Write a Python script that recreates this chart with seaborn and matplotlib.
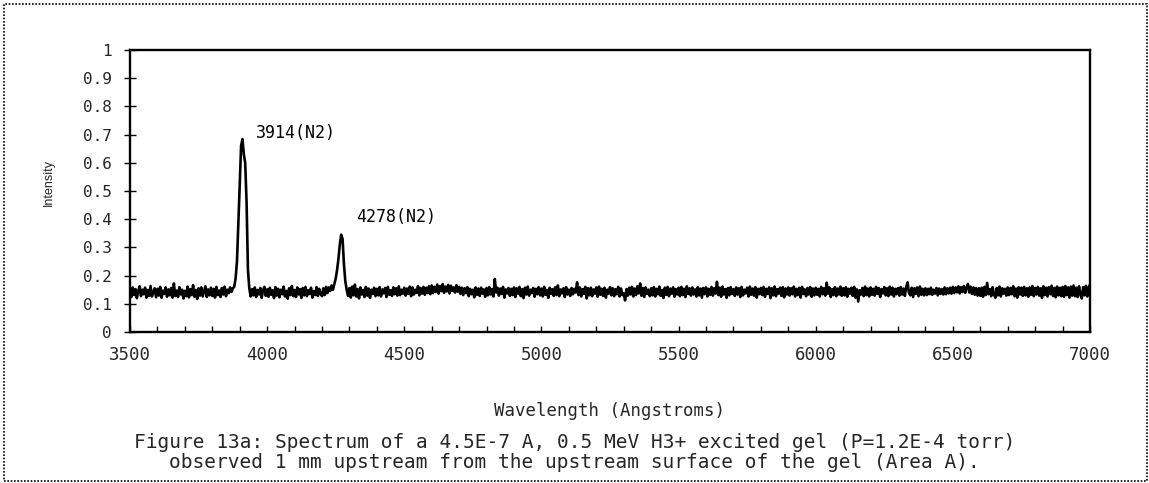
import numpy as np
import matplotlib
matplotlib.use("Agg")
import matplotlib.pyplot as plt
from matplotlib.patches import Rectangle
from matplotlib.ticker import MultipleLocator, FuncFormatter
import seaborn as sns

# ---- data, one value every 5 Angstroms from 3500 ----
start_wavelength = 3500
step_wavelength = 5
intensity = [
    # 3500-3595
    0.148, 0.124, 0.158, 0.131, 0.152, 0.120, 0.145, 0.162, 0.127, 0.150, 0.134, 0.157, 0.122, 0.149, 0.128, 0.163, 0.126, 0.141, 0.155, 0.123,
    # 3600-3695
    0.153, 0.129, 0.160, 0.121, 0.147, 0.135, 0.158, 0.125, 0.151, 0.130, 0.156, 0.122, 0.172, 0.128, 0.147, 0.124, 0.159, 0.133, 0.150, 0.119,
    # 3700-3795
    0.146, 0.127, 0.161, 0.123, 0.152, 0.131, 0.166, 0.125, 0.149, 0.117, 0.155, 0.129, 0.158, 0.126, 0.144, 0.162, 0.124, 0.151, 0.130, 0.157,
    # 3800-3895
    0.128, 0.153, 0.122, 0.160, 0.131, 0.147, 0.124, 0.156, 0.133, 0.161, 0.127, 0.150, 0.138, 0.158, 0.142, 0.155, 0.160, 0.190, 0.250, 0.380,
    # 3900-3995
    0.520, 0.660, 0.684, 0.630, 0.600, 0.460, 0.220, 0.155, 0.126, 0.152, 0.130, 0.158, 0.124, 0.149, 0.133, 0.156, 0.121, 0.147, 0.160, 0.128,
    # 4000-4095
    0.151, 0.125, 0.157, 0.132, 0.148, 0.120, 0.159, 0.129, 0.153, 0.123, 0.150, 0.134, 0.161, 0.126, 0.146, 0.118, 0.155, 0.131, 0.163, 0.127,
    # 4100-4195
    0.149, 0.124, 0.158, 0.133, 0.152, 0.121, 0.156, 0.130, 0.160, 0.127, 0.148, 0.135, 0.157, 0.122, 0.145, 0.131, 0.159, 0.128, 0.153, 0.136,
    # 4200-4295
    0.127, 0.155, 0.131, 0.160, 0.138, 0.158, 0.146, 0.165, 0.150, 0.170, 0.190, 0.220, 0.260, 0.310, 0.345, 0.330, 0.240, 0.180, 0.150, 0.128,
    # 4300-4395
    0.156, 0.122, 0.161, 0.130, 0.168, 0.126, 0.152, 0.119, 0.158, 0.133, 0.149, 0.124, 0.160, 0.129, 0.154, 0.121, 0.150, 0.135, 0.157, 0.127,
    # 4400-4495
    0.153, 0.130, 0.159, 0.126, 0.151, 0.137, 0.156, 0.124, 0.160, 0.132, 0.148, 0.128, 0.158, 0.134, 0.155, 0.129, 0.162, 0.131, 0.150, 0.136,
    # 4500-4595
    0.157, 0.129, 0.154, 0.135, 0.161, 0.127, 0.158, 0.133, 0.150, 0.139, 0.163, 0.130, 0.156, 0.136, 0.160, 0.132, 0.157, 0.138, 0.162, 0.134,
    # 4600-4695
    0.165, 0.138, 0.160, 0.142, 0.168, 0.136, 0.163, 0.145, 0.170, 0.139, 0.161, 0.144, 0.167, 0.137, 0.164, 0.146, 0.158, 0.140, 0.166, 0.143,
    # 4700-4795
    0.160, 0.135, 0.157, 0.131, 0.155, 0.138, 0.159, 0.127, 0.153, 0.134, 0.150, 0.123, 0.158, 0.132, 0.154, 0.128, 0.157, 0.136, 0.151, 0.125,
    # 4800-4895
    0.156, 0.130, 0.159, 0.133, 0.152, 0.126, 0.188, 0.140, 0.157, 0.129, 0.154, 0.135, 0.160, 0.122, 0.151, 0.137, 0.156, 0.128, 0.153, 0.131,
    # 4900-4995
    0.158, 0.124, 0.155, 0.136, 0.160, 0.127, 0.152, 0.120, 0.157, 0.133, 0.161, 0.129, 0.150, 0.138, 0.156, 0.125, 0.153, 0.134, 0.159, 0.130,
    # 5000-5095
    0.154, 0.126, 0.160, 0.132, 0.149, 0.121, 0.157, 0.135, 0.152, 0.128, 0.158, 0.131, 0.165, 0.127, 0.151, 0.137, 0.155, 0.124, 0.159, 0.133,
    # 5100-5195
    0.150, 0.128, 0.156, 0.134, 0.153, 0.140, 0.176, 0.131, 0.158, 0.126, 0.152, 0.135, 0.160, 0.119, 0.155, 0.130, 0.157, 0.127, 0.151, 0.136,
    # 5200-5295
    0.158, 0.125, 0.161, 0.132, 0.153, 0.128, 0.157, 0.122, 0.150, 0.136, 0.159, 0.130, 0.155, 0.127, 0.152, 0.134, 0.160, 0.126, 0.154, 0.131,
    # 5300-5395
    0.137, 0.112, 0.152, 0.129, 0.157, 0.133, 0.160, 0.126, 0.154, 0.131, 0.162, 0.137, 0.172, 0.128, 0.156, 0.124, 0.158, 0.135, 0.150, 0.127,
    # 5400-5495
    0.155, 0.130, 0.159, 0.126, 0.153, 0.134, 0.161, 0.128, 0.149, 0.121, 0.157, 0.132, 0.160, 0.127, 0.154, 0.136, 0.158, 0.125, 0.152, 0.133,
    # 5500-5595
    0.157, 0.127, 0.160, 0.131, 0.153, 0.124, 0.162, 0.135, 0.155, 0.129, 0.158, 0.133, 0.151, 0.126, 0.159, 0.130, 0.154, 0.122, 0.156, 0.134,
    # 5600-5695
    0.158, 0.126, 0.153, 0.132, 0.160, 0.129, 0.155, 0.136, 0.178, 0.131, 0.157, 0.125, 0.161, 0.133, 0.152, 0.121, 0.156, 0.130, 0.159, 0.135,
    # 5700-5795
    0.152, 0.128, 0.158, 0.133, 0.155, 0.124, 0.160, 0.130, 0.150, 0.137, 0.157, 0.126, 0.161, 0.132, 0.154, 0.129, 0.159, 0.122, 0.153, 0.134,
    # 5800-5895
    0.156, 0.131, 0.160, 0.125, 0.153, 0.135, 0.158, 0.120, 0.155, 0.130, 0.161, 0.127, 0.152, 0.136, 0.157, 0.128, 0.159, 0.123, 0.154, 0.133,
    # 5900-5995
    0.158, 0.129, 0.155, 0.134, 0.161, 0.126, 0.153, 0.131, 0.157, 0.122, 0.160, 0.135, 0.151, 0.127, 0.156, 0.133, 0.159, 0.125, 0.154, 0.130,
    # 6000-6095
    0.157, 0.132, 0.153, 0.126, 0.160, 0.134, 0.155, 0.129, 0.175, 0.136, 0.158, 0.124, 0.152, 0.131, 0.159, 0.127, 0.154, 0.133, 0.161, 0.128,
    # 6100-6195
    0.155, 0.130, 0.159, 0.125, 0.153, 0.136, 0.157, 0.128, 0.160, 0.122, 0.151, 0.108, 0.148, 0.133, 0.156, 0.127, 0.161, 0.131, 0.154, 0.126,
    # 6200-6295
    0.158, 0.132, 0.153, 0.129, 0.160, 0.135, 0.156, 0.124, 0.152, 0.137, 0.159, 0.130, 0.155, 0.127, 0.161, 0.133, 0.157, 0.126, 0.153, 0.134,
    # 6300-6395
    0.156, 0.129, 0.159, 0.133, 0.154, 0.128, 0.160, 0.176, 0.138, 0.130, 0.157, 0.124, 0.155, 0.135, 0.158, 0.127, 0.161, 0.132, 0.153, 0.130,
    # 6400-6495
    0.155, 0.131, 0.153, 0.134, 0.157, 0.132, 0.150, 0.136, 0.156, 0.130, 0.154, 0.135, 0.152, 0.133, 0.158, 0.134, 0.155, 0.137, 0.157, 0.136,
    # 6500-6595
    0.160, 0.138, 0.158, 0.141, 0.162, 0.137, 0.159, 0.142, 0.163, 0.139, 0.157, 0.170, 0.140, 0.161, 0.135, 0.158, 0.132, 0.156, 0.129, 0.155,
    # 6600-6695
    0.128, 0.157, 0.125, 0.160, 0.131, 0.174, 0.134, 0.152, 0.127, 0.159, 0.133, 0.121, 0.156, 0.130, 0.161, 0.126, 0.155, 0.136, 0.153, 0.129,
    # 6700-6795
    0.158, 0.131, 0.156, 0.134, 0.162, 0.127, 0.154, 0.122, 0.159, 0.133, 0.157, 0.128, 0.160, 0.130, 0.155, 0.125, 0.158, 0.132, 0.163, 0.127,
    # 6800-6895
    0.156, 0.133, 0.160, 0.129, 0.155, 0.121, 0.162, 0.131, 0.157, 0.126, 0.159, 0.134, 0.164, 0.128, 0.156, 0.123, 0.161, 0.130, 0.157, 0.127,
    # 6900-6995
    0.160, 0.125, 0.163, 0.131, 0.158, 0.122, 0.161, 0.129, 0.165, 0.127, 0.157, 0.124, 0.162, 0.133, 0.119, 0.159, 0.130, 0.164, 0.126, 0.158,
    # 7000
    0.168,
]
peak_labels = ["3914(N2)", "4278(N2)"]
peak_label_x = [3959, 4324]
peak_label_y = [0.706, 0.408]
x_label = "Wavelength (Angstroms)"
y_label = "Intensity"
caption_lines = [
    "Figure 13a: Spectrum of a 4.5E-7 A, 0.5 MeV H3+ excited gel (P=1.2E-4 torr)",
    "observed 1 mm upstream from the upstream surface of the gel (Area A).",
]

wavelength = np.arange(start_wavelength,
                       start_wavelength + step_wavelength * len(intensity),
                       step_wavelength)

# ---- styling ----
sns.set_style("white")
plt.rcParams["font.family"] = ["DejaVu Sans Mono", "DejaVu Sans"]

fig = plt.figure(figsize=(11.49, 4.83), dpi=100)
ax = fig.add_axes([130 / 1149, 1 - 332 / 483, 960 / 1149, 282 / 483])

sns.lineplot(x=wavelength, y=intensity, ax=ax, color="black", linewidth=1.9)

ax.set_xlim(3500, 7000)
ax.set_ylim(0, 1)
ax.xaxis.set_major_locator(MultipleLocator(500))
ax.xaxis.set_minor_locator(MultipleLocator(100))
ax.yaxis.set_major_locator(MultipleLocator(0.1))
ax.yaxis.set_major_formatter(FuncFormatter(lambda v, p: f"{v:g}"))

for s in ax.spines.values():
    s.set_linewidth(1.7)
    s.set_color("black")

ax.tick_params(axis="x", which="both", direction="in", length=4, width=1.0,
               color="black", pad=10, labelsize=12.5)
ax.tick_params(axis="y", which="major", direction="inout", length=8, width=1.0,
               color="black", pad=9, labelsize=11.5)
ax.tick_params(bottom=True, left=True, top=False, right=False)
ax.tick_params(axis="x", which="minor", bottom=True)

ax.set_xlabel(x_label, fontsize=12.5)
ax.xaxis.set_label_coords(0.5, (332 - 402) / 282)
ax.set_ylabel(y_label, fontsize=9, family="Liberation Sans")
ax.yaxis.set_label_coords((55 - 130) / 960, (332 - 182) / 282)

for lab, lx, ly in zip(peak_labels, peak_label_x, peak_label_y):
    ax.text(lx, ly, lab, ha="left", va="center", fontsize=12, color="black")

fig.text(0.5, 1 - 442 / 483, caption_lines[0], ha="center", va="center", fontsize=14)
fig.text(0.5, 1 - 463 / 483, caption_lines[1], ha="center", va="center", fontsize=14)

fig.patches.append(Rectangle((4 / 1149, 2 / 483), 1143 / 1149, 477 / 483,
                             transform=fig.transFigure, fill=False,
                             linestyle=(0, (1, 1)), linewidth=1.2, edgecolor="black"))

fig.savefig("out.png", dpi=100, facecolor="white")
